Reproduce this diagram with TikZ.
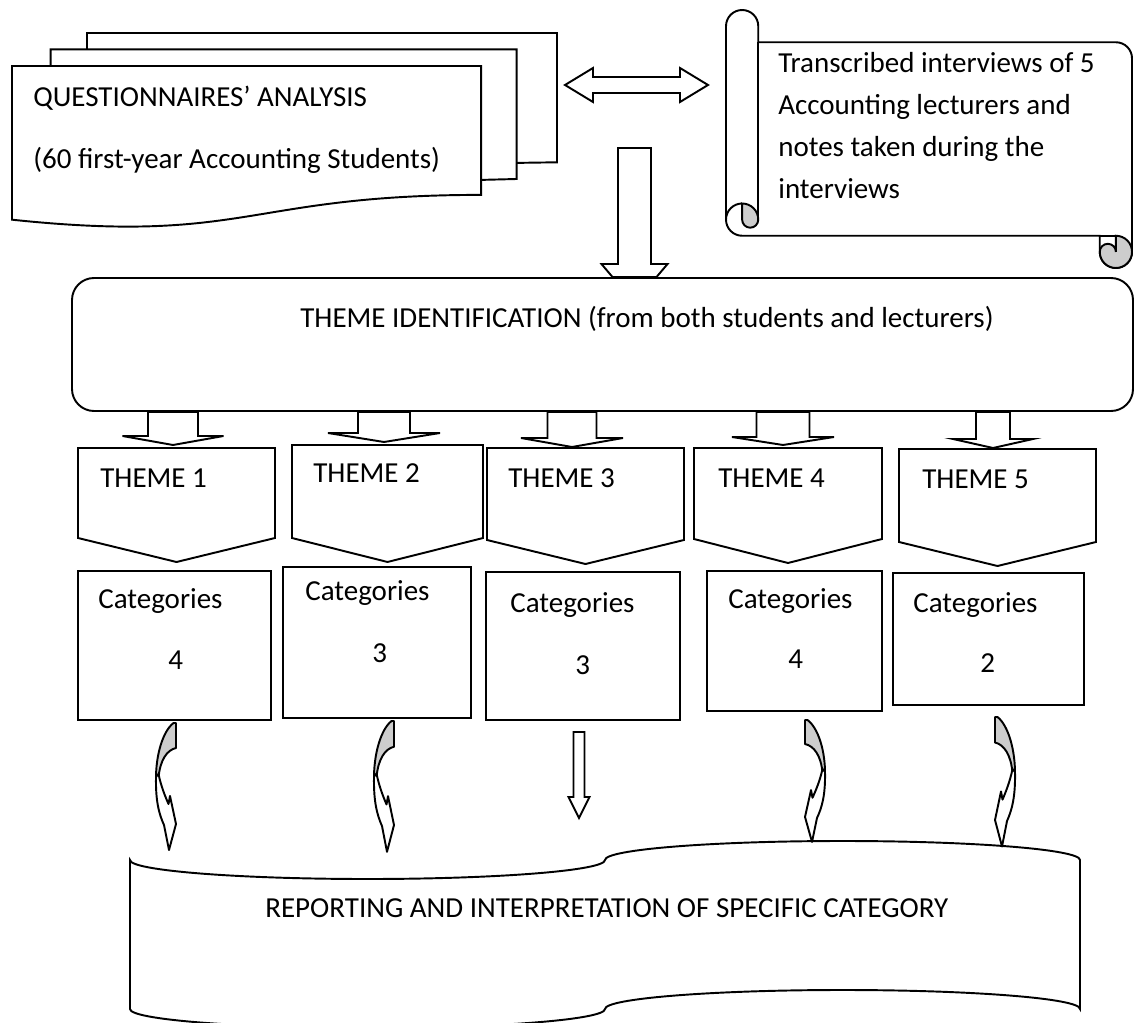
\documentclass[tikz,border=0pt]{standalone}
\usepackage{fontspec}
\setmainfont{Carlito}
\usetikzlibrary{calc}
\definecolor{curlgray}{RGB}{205,205,205}
\newcommand{\unitpx}{0.02cm}
% block arrow pointing down: #1 top, #2 tip, #3 shaft half width, #4 head half width, #5 head length
\newcommand{\blockdown}[5]{%
  \draw[blockline] ($(#1)+(-#3,0)$) -- ($(#2)+(-#3,-#5)$) -- ($(#2)+(-#4,-#5)$) -- (#2)
    -- ($(#2)+(#4,-#5)$) -- ($(#2)+(#3,-#5)$) -- ($(#1)+(#3,0)$) -- cycle;}
\tikzset{
  shapeline/.style={draw, line width=1.1pt},
  blockline/.style={shapeline, fill=white},
  txt/.style={anchor=base west, inner sep=0pt, font=\fontsize{16.5}{19.8}\selectfont},
  holder/.style={inner sep=0pt, outer sep=0pt},
  catbox/.style={shapeline, inner sep=0pt, outer sep=0pt},
  bentarrow/.pic={
    \filldraw[shapeline, line join=round, fill=curlgray] (-2.5,0) -- (0,0) -- (0,25)
      .. controls (-9,27) and (-16,37) .. (-17.5,55) -- (-20,58)
      .. controls (-20.5,32) and (-13,8) .. (-2.5,0) -- cycle;
    \filldraw[shapeline, line join=round, fill=white] (-20,54)
      .. controls (-20.5,78) and (-17,91) .. (-12,102) -- (-7,127) -- (0,101) -- (-6,73) -- (-7.5,81)
      .. controls (-11,73) and (-15,63) .. (-17.5,51) -- cycle;
  }
}
\begin{document}
\begin{tikzpicture}[x=\unitpx, y=-\unitpx]
\useasboundingbox (0,0) rectangle (1135,1023);

% sources
\node[holder, minimum width=545*\unitpx, minimum height=194*\unitpx] (docs) at (284.5,130) {};
\node[holder, minimum width=406*\unitpx, minimum height=258*\unitpx] (scroll) at (929,139) {};

% stacked questionnaire pages
\draw[shapeline] (87,49.3) -- (87,33) -- (557,33) -- (557,162.3) -- (516.6,162.9);
\draw[shapeline] (50.7,66) -- (50.7,49.3) -- (516.6,49.3) -- (516.6,179) -- (481.2,179.9);
\draw[shapeline] (12,219.7) .. controls (246.6,244.4) and (246.6,194.9) .. (481.2,194.9) -- (481.2,66) -- (12,66) -- cycle;
\node[txt] (qa1) at (33,107) {QUESTIONNAIRES’ ANALYSIS};
\node[txt] (qa2) at (33,169) {(60 first-year Accounting Students)};

% interview scroll
\draw[shapeline] (1099.75,235.75) -- (742.125,235.75) arc[start angle=90, end angle=180, radius=16.125]
  -- (726,26.125) arc[start angle=180, end angle=360, radius=16.125] -- (758.25,42.25)
  -- (1115.875,42.25) arc[start angle=270, end angle=360, radius=16.125]
  -- (1132,251.875) arc[start angle=0, end angle=180, radius=16.125] -- cycle;
\filldraw[shapeline, fill=curlgray] (742.125,203.5) arc[start angle=270, end angle=360, radius=16.125]
  arc[start angle=0, end angle=180, radius=8.0625] -- cycle;
\filldraw[shapeline, fill=curlgray] (1115.875,235.75) arc[start angle=-90, end angle=180, radius=16.125]
  arc[start angle=180, end angle=360, radius=8.0625] -- cycle;
\draw[shapeline] (726,219.625) arc[start angle=180, end angle=270, radius=16.125];
\draw[shapeline] (758.25,42.25) -- (758.25,219.625);
\draw[shapeline] (1099.75,235.75) -- (1115.875,235.75);
\foreach \ln [count=\i] in {Transcribed interviews of 5, Accounting lecturers and, notes taken during the, interviews}
  \node[txt] (tr\i) at (778,{73+41.7*(\i-1)}) {\ln};

% two-way link
\coordinate (dl) at ($(docs.north east)+(8,52)$);
\coordinate (dr) at ($(scroll.north west)+(-18,75)$);
\draw[blockline] (dl) -- ++(28,-17) -- ++(0,9) -- ($(dr)+(-28,-8)$) -- ++(0,-9) -- (dr)
  -- ++(-28,17) -- ++(0,-9) -- ($(dl)+(28,8)$) -- ++(0,9) -- cycle;

% theme identification
\node[shapeline, rounded corners=0.44cm, minimum width=1061*\unitpx, minimum height=133*\unitpx, inner sep=0pt] (id) at (602.5,344.5) {};
\node[txt] (idtxt) at (300,328) {THEME IDENTIFICATION (from both students and lecturers)};
\coordinate (drop) at (634.5,148);
\draw[blockline] ($(drop)+(-16.5,0)$) -- ($(drop |- id.north)+(-16.5,-13)$) -- ($(drop |- id.north)+(-33,-13)$)
  -- ($(drop |- id.north)+(-22,0)$) -- ($(drop |- id.north)+(22,0)$) -- ($(drop |- id.north)+(33,-13)$)
  -- ($(drop |- id.north)+(16.5,-13)$) -- ($(drop)+(16.5,0)$) -- cycle;

% themes
\node[holder, minimum width=197*\unitpx, minimum height=90*\unitpx] (t1) at (176.5,493) {};
\node[holder, minimum width=191*\unitpx, minimum height=93*\unitpx] (t2) at (387.5,491.5) {};
\node[holder, minimum width=197*\unitpx, minimum height=92*\unitpx] (t3) at (585.5,494) {};
\node[holder, minimum width=188*\unitpx, minimum height=91*\unitpx] (t4) at (788,493.5) {};
\node[holder, minimum width=197*\unitpx, minimum height=93*\unitpx] (t5) at (997.5,495.5) {};
\foreach \t in {t1,t2,t3,t4,t5}
  \draw[blockline] (\t.north west) -- (\t.north east) -- (\t.south east) -- ($(\t.south)+(0,24)$) -- (\t.south west) -- cycle;
\node[txt] (th1) at (100,487) {THEME 1};
\node[txt] (th2) at (313,482) {THEME 2};
\node[txt] (th3) at (508,487) {THEME 3};
\node[txt] (th4) at (718,487) {THEME 4};
\node[txt] (th5) at (922,488) {THEME 5};

\coordinate (a1) at ($(t1.north)+(-3.5,-3)$);
\coordinate (a2) at ($(t2.north)+(-3.5,-3)$);
\coordinate (a3) at ($(t3.north)+(-13.5,-1)$);
\coordinate (a4) at ($(t4.north)+(-5,-3)$);
\coordinate (a5) at ($(t5.north)+(-4.5,-1)$);
\blockdown{a1 |- id.south}{a1}{25}{50.5}{9}
\blockdown{a2 |- id.south}{a2}{26}{56}{9}
\blockdown{a3 |- id.south}{a3}{24.5}{51}{9}
\blockdown{a4 |- id.south}{a4}{26.5}{51}{8}
\blockdown{a5 |- id.south}{a5}{17}{40}{9}

% categories
\node[catbox, minimum width=193*\unitpx, minimum height=149*\unitpx] (c1) at (174.5,645.5) {};
\node[catbox, minimum width=188*\unitpx, minimum height=151*\unitpx] (c2) at (377,642.5) {};
\node[catbox, minimum width=194*\unitpx, minimum height=148*\unitpx] (c3) at (583,646) {};
\node[catbox, minimum width=175*\unitpx, minimum height=140*\unitpx] (c4) at (794.5,641) {};
\node[catbox, minimum width=191*\unitpx, minimum height=132*\unitpx] (c5) at (988.5,639) {};
\node[txt] (cat1) at (98,608) {Categories};
\node[txt] (num1) at (168,669) {4};
\node[txt] (cat2) at (305,600) {Categories};
\node[txt] (num2) at (372,662) {3};
\node[txt] (cat3) at (510,612) {Categories};
\node[txt] (num3) at (575,674) {3};
\node[txt] (cat4) at (728,608) {Categories};
\node[txt] (num4) at (788,668) {4};
\node[txt] (cat5) at (913,612) {Categories};
\node[txt] (num5) at (980,672) {2};

% reporting
\draw[shapeline] (130,860) arc[start angle=180, end angle=0, x radius=237.5, y radius=19]
  arc[start angle=180, end angle=360, x radius=237.5, y radius=19] -- (1080,1009)
  arc[start angle=0, end angle=-180, x radius=237.5, y radius=19]
  arc[start angle=0, end angle=180, x radius=237.5, y radius=19] -- cycle;
\node[txt] (reptxt) at (265,917) {REPORTING AND INTERPRETATION OF SPECIFIC CATEGORY};

\pic at ($(c1.south)+(1.5,3)$) {bentarrow};
\pic[yscale=1.03] at ($(c2.south)+(17,3)$) {bentarrow};
\pic[xscale=-1, yscale=0.96] at ($(c4.south)+(10.5,9)$) {bentarrow};
\pic[xscale=-1, yscale=1.02] at ($(c5.south)+(6.5,12)$) {bentarrow};
\coordinate (a6top) at ($(c3.south)+(-4,12)$);
\coordinate (a6) at ($(c3.south)+(-4,98)$);
\blockdown{a6top}{a6}{5.5}{10.5}{21}
\end{tikzpicture}
\end{document}
